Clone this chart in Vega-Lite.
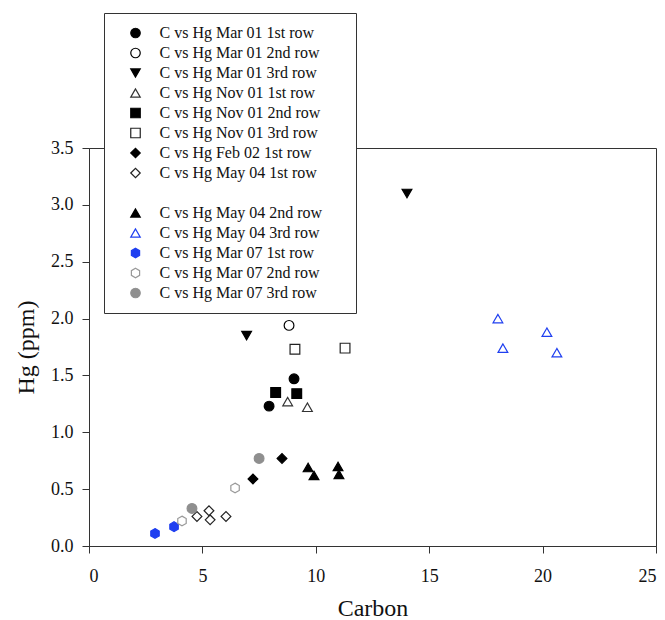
{
  "$schema": "https://vega.github.io/schema/vega-lite/v6.json",
  "width": 567,
  "height": 398,
  "autosize": "none",
  "padding": {"left": 89, "top": 148, "right": 9, "bottom": 74},
  "background": "white",
  "data": {
    "values": [
      {"series": "C vs Hg Mar 01 1st row", "carbon": 7.94, "hg": 1.23},
      {"series": "C vs Hg Mar 01 1st row", "carbon": 9.04, "hg": 1.47},
      {"series": "C vs Hg Mar 01 2nd row", "carbon": 8.82, "hg": 1.94},
      {"series": "C vs Hg Mar 01 3rd row", "carbon": 6.95, "hg": 1.85},
      {"series": "C vs Hg Mar 01 3rd row", "carbon": 14.02, "hg": 3.10},
      {"series": "C vs Hg Nov 01 1st row", "carbon": 8.76, "hg": 1.27},
      {"series": "C vs Hg Nov 01 1st row", "carbon": 9.63, "hg": 1.22},
      {"series": "C vs Hg Nov 01 2nd row", "carbon": 8.23, "hg": 1.35},
      {"series": "C vs Hg Nov 01 2nd row", "carbon": 9.16, "hg": 1.34},
      {"series": "C vs Hg Nov 01 3rd row", "carbon": 9.08, "hg": 1.73},
      {"series": "C vs Hg Nov 01 3rd row", "carbon": 11.29, "hg": 1.74},
      {"series": "C vs Hg Feb 02 1st row", "carbon": 7.23, "hg": 0.59},
      {"series": "C vs Hg Feb 02 1st row", "carbon": 8.51, "hg": 0.77},
      {"series": "C vs Hg May 04 1st row", "carbon": 4.76, "hg": 0.26},
      {"series": "C vs Hg May 04 1st row", "carbon": 5.29, "hg": 0.31},
      {"series": "C vs Hg May 04 1st row", "carbon": 5.34, "hg": 0.23},
      {"series": "C vs Hg May 04 1st row", "carbon": 6.04, "hg": 0.26},
      {"series": "C vs Hg May 04 2nd row", "carbon": 9.66, "hg": 0.69},
      {"series": "C vs Hg May 04 2nd row", "carbon": 9.92, "hg": 0.62},
      {"series": "C vs Hg May 04 2nd row", "carbon": 10.98, "hg": 0.70},
      {"series": "C vs Hg May 04 2nd row", "carbon": 11.02, "hg": 0.63},
      {"series": "C vs Hg May 04 3rd row", "carbon": 18.03, "hg": 2.00},
      {"series": "C vs Hg May 04 3rd row", "carbon": 18.25, "hg": 1.74},
      {"series": "C vs Hg May 04 3rd row", "carbon": 20.19, "hg": 1.88},
      {"series": "C vs Hg May 04 3rd row", "carbon": 20.63, "hg": 1.70},
      {"series": "C vs Hg Mar 07 1st row", "carbon": 2.91, "hg": 0.11},
      {"series": "C vs Hg Mar 07 1st row", "carbon": 3.75, "hg": 0.17},
      {"series": "C vs Hg Mar 07 2nd row", "carbon": 4.10, "hg": 0.22},
      {"series": "C vs Hg Mar 07 2nd row", "carbon": 6.44, "hg": 0.51},
      {"series": "C vs Hg Mar 07 3rd row", "carbon": 4.54, "hg": 0.33},
      {"series": "C vs Hg Mar 07 3rd row", "carbon": 7.50, "hg": 0.77}
    ]
  },
  "mark": {"type": "point", "filled": true, "size": 95, "strokeWidth": 1.2, "opacity": 1},
  "encoding": {
    "x": {
      "field": "carbon", "type": "quantitative", "title": "Carbon",
      "scale": {"domain": [0, 25], "nice": false, "zero": false},
      "axis": {"values": [0, 5, 10, 15, 20, 25], "format": "d", "labelPadding": 14, "titlePadding": 11}
    },
    "y": {
      "field": "hg", "type": "quantitative", "title": "Hg (ppm)",
      "scale": {"domain": [0, 3.5], "nice": false, "zero": false},
      "axis": {"values": [0, 0.5, 1, 1.5, 2, 2.5, 3, 3.5], "format": ".1f", "labelPadding": 9, "titlePadding": 12}
    },
    "shape": {
      "field": "series", "type": "nominal",
      "scale": {
        "domain": ["C vs Hg Mar 01 1st row", "C vs Hg Mar 01 2nd row", "C vs Hg Mar 01 3rd row", "C vs Hg Nov 01 1st row", "C vs Hg Nov 01 2nd row", "C vs Hg Nov 01 3rd row", "C vs Hg Feb 02 1st row", "C vs Hg May 04 1st row", "\u200b\u00a0\u00a0\u00a0\u00a0\u00a0\u00a0\u00a0\u00a0\u00a0\u00a0\u00a0\u00a0\u00a0\u00a0\u00a0\u00a0\u00a0\u00a0\u00a0\u00a0\u00a0\u00a0\u00a0\u00a0\u00a0\u00a0\u00a0\u00a0\u00a0\u00a0\u00a0\u00a0\u00a0\u00a0\u00a0\u00a0\u00a0\u00a0\u00a0\u00a0\u00a0\u00a0\u00a0\u00a0\u00a0\u00a0\u200b", "C vs Hg May 04 2nd row", "C vs Hg May 04 3rd row", "C vs Hg Mar 07 1st row", "C vs Hg Mar 07 2nd row", "C vs Hg Mar 07 3rd row"],
        "range": ["circle", "circle", "triangle-down", "triangle-up", "square", "square", "diamond", "diamond", "circle", "triangle-up", "triangle-up", "M0,-1L0.866,-0.5L0.866,0.5L0,1L-0.866,0.5L-0.866,-0.5Z", "M0,-1L0.866,-0.5L0.866,0.5L0,1L-0.866,0.5L-0.866,-0.5Z", "circle"]
      },
      "legend": {
        "title": null, "orient": "none", "legendX": 15, "legendY": -135,
        "encode": {
          "symbols": {
            "update": {
              "fill": {"scale": "fill", "field": "value"},
              "stroke": {"scale": "stroke", "field": "value"}
            }
          }
        }
      }
    },
    "fill": {
      "field": "series", "type": "nominal",
      "scale": {
        "domain": ["C vs Hg Mar 01 1st row", "C vs Hg Mar 01 2nd row", "C vs Hg Mar 01 3rd row", "C vs Hg Nov 01 1st row", "C vs Hg Nov 01 2nd row", "C vs Hg Nov 01 3rd row", "C vs Hg Feb 02 1st row", "C vs Hg May 04 1st row", "\u200b\u00a0\u00a0\u00a0\u00a0\u00a0\u00a0\u00a0\u00a0\u00a0\u00a0\u00a0\u00a0\u00a0\u00a0\u00a0\u00a0\u00a0\u00a0\u00a0\u00a0\u00a0\u00a0\u00a0\u00a0\u00a0\u00a0\u00a0\u00a0\u00a0\u00a0\u00a0\u00a0\u00a0\u00a0\u00a0\u00a0\u00a0\u00a0\u00a0\u00a0\u00a0\u00a0\u00a0\u00a0\u00a0\u00a0\u200b", "C vs Hg May 04 2nd row", "C vs Hg May 04 3rd row", "C vs Hg Mar 07 1st row", "C vs Hg Mar 07 2nd row", "C vs Hg Mar 07 3rd row"],
        "range": ["#000000", "#ffffff", "#000000", "#ffffff", "#000000", "#ffffff", "#000000", "#ffffff", "transparent", "#000000", "#ffffff", "#1f3ff0", "#ffffff", "#8f8f8f"]
      },
      "legend": null
    },
    "stroke": {
      "field": "series", "type": "nominal",
      "scale": {
        "domain": ["C vs Hg Mar 01 1st row", "C vs Hg Mar 01 2nd row", "C vs Hg Mar 01 3rd row", "C vs Hg Nov 01 1st row", "C vs Hg Nov 01 2nd row", "C vs Hg Nov 01 3rd row", "C vs Hg Feb 02 1st row", "C vs Hg May 04 1st row", "\u200b\u00a0\u00a0\u00a0\u00a0\u00a0\u00a0\u00a0\u00a0\u00a0\u00a0\u00a0\u00a0\u00a0\u00a0\u00a0\u00a0\u00a0\u00a0\u00a0\u00a0\u00a0\u00a0\u00a0\u00a0\u00a0\u00a0\u00a0\u00a0\u00a0\u00a0\u00a0\u00a0\u00a0\u00a0\u00a0\u00a0\u00a0\u00a0\u00a0\u00a0\u00a0\u00a0\u00a0\u00a0\u00a0\u00a0\u200b", "C vs Hg May 04 2nd row", "C vs Hg May 04 3rd row", "C vs Hg Mar 07 1st row", "C vs Hg Mar 07 2nd row", "C vs Hg Mar 07 3rd row"],
        "range": ["#000000", "#000000", "#000000", "#333333", "#000000", "#222222", "#000000", "#222222", "transparent", "#000000", "#1f3ff0", "#1f3ff0", "#999999", "#8f8f8f"]
      },
      "legend": null
    }
  },
  "config": {
    "view": {"stroke": "#333333", "strokeWidth": 1},
    "font": "Liberation Serif",
    "axis": {
      "grid": false,
      "labelFont": "Liberation Serif",
      "labelFontSize": 18,
      "labelColor": "#111111",
      "titleFont": "Liberation Serif",
      "titleFontSize": 24,
      "titleFontWeight": "normal",
      "titleColor": "#111111",
      "domainColor": "#333333",
      "tickColor": "#333333",
      "tickSize": 7,
      "domainWidth": 1,
      "tickWidth": 1
    },
    "legend": {
      "padding": 12,
      "strokeColor": "#333333",
      "fillColor": "white",
      "labelFont": "Liberation Serif",
      "labelFontSize": 16,
      "labelColor": "#111111",
      "labelLimit": 400,
      "symbolSize": 90,
      "symbolStrokeWidth": 1.2,
      "symbolOffset": 11.5,
      "labelOffset": 16,
      "rowPadding": 4
    }
  }
}
